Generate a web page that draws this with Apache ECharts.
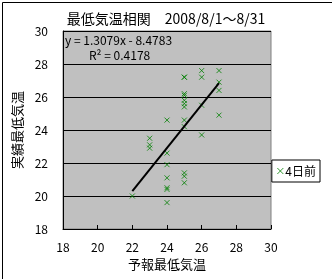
<!DOCTYPE html>
<html><head><meta charset="utf-8">
<script src="https://cdn.jsdelivr.net/npm/echarts@6/dist/echarts.min.js"></script>
<style>html,body{margin:0;padding:0;background:#fff}#c{width:332px;height:279px}</style>
</head><body><div id="c"></div>
<script>
var forecastX = [22, 23,23,23, 24,24,24,24,24,24,24, 25,25,25,25,25,25,25,25,25,25,25,25, 26,26,26,26, 27,27,27,27];
var actualY   = [20.0, 23.5,23.1,22.9, 24.6,22.6,21.9,21.1,20.5,20.4,19.6, 27.2,27.2,26.2,26.1,25.8,25.6,25.4,24.6,24.2,21.4,21.2,20.8, 27.6,27.2,25.5,23.7, 27.6,26.9,26.4,24.9];
var slope = 1.3079, intercept = -8.4783, r2 = 0.4178;
var axisTicks = [18, 20, 22, 24, 26, 28, 30];
var seriesName = '4日前';
var titleText = '最低気温相関　2008/8/1～8/31';

var pts = forecastX.map(function(x,i){return [x, actualY[i]];});
var xmin = Math.min.apply(null, forecastX), xmax = Math.max.apply(null, forecastX);
var trend = [[xmin, slope*xmin+intercept],[xmax, slope*xmax+intercept]];
var font = '"Noto Sans CJK JP", sans-serif';
var xPath = 'path://M0,0L10,10M10,0L0,10';

var chart = echarts.init(document.getElementById('c'));
chart.setOption({
  animation: false,
  backgroundColor: '#fff',
  title: {text: titleText, left: 'center', top: 7, textStyle: {fontFamily: font, fontSize: 14, fontWeight: 'normal', color: '#000'}},
  grid: {left: 63, top: 31, right: 61, bottom: 50, show: true, backgroundColor: '#c0c0c0', borderColor: '#808080', borderWidth: 1},
  xAxis: {type: 'value', min: axisTicks[0], max: axisTicks[axisTicks.length-1], interval: 2,
    name: '予報最低気温', nameLocation: 'middle', nameGap: 29,
    nameTextStyle: {fontFamily: font, fontSize: 13, color: '#000'},
    axisLine: {show: true, onZero: false, lineStyle: {color: '#000', width: 1}},
    axisTick: {show: true, inside: true, length: 4, lineStyle: {color: '#000'}},
    axisLabel: {fontFamily: font, fontSize: 12, color: '#000', margin: 12},
    splitLine: {show: false}},
  yAxis: {type: 'value', min: axisTicks[0], max: axisTicks[axisTicks.length-1], interval: 2,
    name: '実績最低気温', nameLocation: 'middle', nameGap: 34, nameRotate: 90,
    nameTextStyle: {fontFamily: font, fontSize: 13, color: '#000'},
    axisLine: {show: true, onZero: false, lineStyle: {color: '#000', width: 1}},
    axisTick: {show: true, inside: true, length: 4, lineStyle: {color: '#000'}},
    axisLabel: {fontFamily: font, fontSize: 12, color: '#000', margin: 15},
    splitLine: {show: true, lineStyle: {color: '#000', width: 1}}},
  legend: {data: [{name: seriesName, icon: xPath, itemStyle: {color: 'none', borderColor: '#008000', borderWidth: 1}}],
    right: 12, top: 160, orient: 'vertical', itemWidth: 6, itemHeight: 6, itemGap: 4,
    borderColor: '#000', borderWidth: 1, padding: [5, 4, 5, 3], backgroundColor: '#fff',
    textStyle: {fontFamily: font, fontSize: 12, color: '#000', padding: [0,0,0,-3]}},
  graphic: [
    {type: 'rect', left: 0, top: 0, shape: {width: 331, height: 278}, style: {fill: 'none', stroke: '#000', lineWidth: 1}, silent: true, z: 100, position: [0.5, 0.5]},
    {type: 'text', left: 65, top: 34, style: {text: 'y = ' + slope.toFixed(4) + 'x - ' + Math.abs(intercept).toFixed(4), fontFamily: font, fontSize: 12, fill: '#000'}, z: 50},
    {type: 'text', left: 89, top: 49, style: {text: 'R² = ' + r2.toFixed(4), fontFamily: font, fontSize: 12, fill: '#000'}, z: 50}
  ],
  series: [
    {name: seriesName, type: 'scatter', data: pts, symbol: xPath, symbolSize: 5,
      itemStyle: {color: 'none', borderColor: '#008000', borderWidth: 1}, z: 3},
    {name: 'trend', type: 'line', data: trend, symbol: 'none', lineStyle: {color: '#000', width: 2}, z: 4, silent: true}
  ]
});
</script></body></html>
